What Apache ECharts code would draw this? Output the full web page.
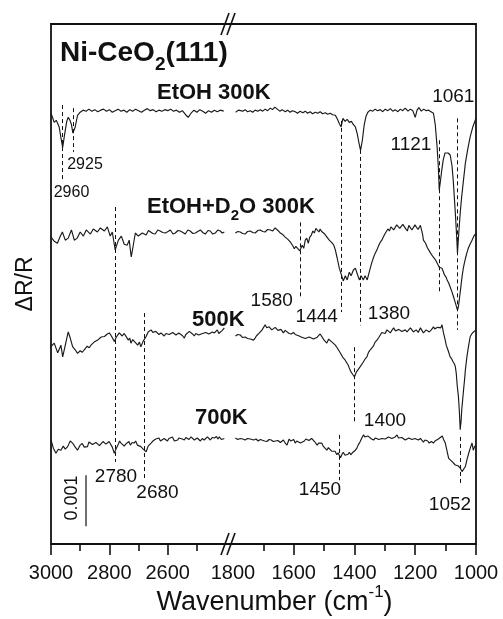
<!DOCTYPE html>
<html>
<head>
<meta charset="utf-8">
<script src="https://cdn.jsdelivr.net/npm/echarts@6/dist/echarts.min.js"></script>
<style>
  html, body { margin: 0; padding: 0; background: #fff; }
  #chart { width: 503px; height: 619px; }
</style>
</head>
<body>
<div id="chart"></div>
<script>
// Broken wavenumber axis (cm-1): high-frequency window and fingerprint window
const highRange = [2390, 3000];
const lowRange = [1000, 1813];
const highTicks = [3000, 2800, 2600];
const highMinorTicks = [2900, 2700, 2500];
const lowTicks = [1800, 1600, 1400, 1200, 1000];
const lowMinorTicks = [1700, 1500, 1300, 1100];

// Stacking offsets of the four traces (units of 1e-3 dR/R)
const offsets = [8.47, 6.10, 4.10, 2.04];
// Scale bar length (1e-3 dR/R)
const scaleBar = 1.0;

// EtOH 300K : [wavenumber, dR/R x1e3]
const etohHigh = [[3000,-0.02],[2995,-0.10],[2989,-0.20],[2982,-0.16],[2977,-0.22],[2972,-0.29],[2966,-0.50],[2960,-0.69],[2955,-0.50],[2951,-0.35],[2946,-0.18],[2941,-0.10],[2935,-0.16],[2930,-0.24],[2925,-0.41],[2917,-0.29],[2909,-0.06],[2900,0.00],[2890,0.04],[2880,0.02],[2870,0.06],[2860,0.02],[2850,0.05],[2840,0.01],[2830,0.04],[2820,0.06],[2810,0.02],[2800,0.05],[2790,0.00],[2780,0.03],[2770,0.06],[2760,0.02],[2750,0.04],[2740,0.00],[2730,0.05],[2720,0.02],[2710,0.06],[2700,0.03],[2690,0.00],[2680,0.04],[2670,0.07],[2660,0.03],[2650,0.05],[2640,0.01],[2630,0.04],[2620,0.02],[2610,0.05],[2600,0.03],[2590,0.06],[2580,0.02],[2570,0.04],[2560,0.00],[2550,0.03],[2540,-0.04],[2530,-0.10],[2520,-0.02],[2510,0.04],[2500,0.00],[2490,0.05],[2480,0.02],[2470,-0.02],[2460,0.03],[2450,0.00],[2440,0.04],[2430,0.01],[2420,0.04],[2408,0.02]];
const etohLow = [[1791,0.00],[1782,0.04],[1776,0.06],[1768,0.02],[1760,0.05],[1752,0.01],[1743,0.03],[1735,0.00],[1727,0.04],[1718,0.02],[1710,0.05],[1702,0.02],[1694,0.06],[1686,0.03],[1677,0.08],[1670,0.05],[1662,0.10],[1654,0.06],[1646,0.02],[1638,0.05],[1628,0.01],[1620,0.04],[1612,0.00],[1604,0.03],[1595,0.01],[1587,-0.02],[1579,0.02],[1570,-0.01],[1562,0.02],[1554,-0.02],[1546,0.01],[1538,-0.03],[1529,0.00],[1521,-0.02],[1513,0.01],[1505,-0.03],[1496,-0.01],[1488,-0.04],[1480,-0.02],[1472,-0.05],[1463,-0.06],[1456,-0.14],[1450,-0.22],[1444,-0.29],[1438,-0.12],[1431,-0.18],[1424,-0.14],[1417,-0.20],[1410,-0.18],[1404,-0.24],[1397,-0.29],[1391,-0.42],[1386,-0.58],[1380,-0.75],[1374,-0.55],[1368,-0.25],[1362,-0.08],[1356,0.00],[1348,0.04],[1340,0.02],[1332,0.06],[1324,0.03],[1315,0.05],[1307,0.01],[1299,0.06],[1290,0.03],[1282,0.07],[1274,0.02],[1266,0.05],[1257,0.01],[1249,0.06],[1241,0.03],[1233,0.08],[1224,0.02],[1216,0.06],[1208,0.03],[1200,-0.10],[1194,0.04],[1188,0.09],[1180,0.02],[1172,0.06],[1164,0.03],[1156,0.04],[1148,0.01],[1140,-0.02],[1134,-0.25],[1128,-0.68],[1124,-1.07],[1121,-1.53],[1117,-1.35],[1113,-1.15],[1108,-0.94],[1102,-0.80],[1098,-0.78],[1092,-0.80],[1085,-0.84],[1079,-1.05],[1075,-1.33],[1068,-1.98],[1064,-2.40],[1061,-2.76],[1057,-2.40],[1052,-1.98],[1047,-1.65],[1043,-1.43],[1035,-1.00],[1027,-0.72],[1019,-0.48],[1010,-0.28],[1000,-0.12]];

// EtOH+D2O 300K
const d2oHigh = [[3000,-0.08],[2989,-0.16],[2978,-0.20],[2968,-0.06],[2961,0.02],[2951,-0.14],[2941,-0.10],[2930,0.06],[2920,-0.14],[2910,-0.10],[2900,0.02],[2889,-0.06],[2879,0.06],[2865,-0.02],[2855,0.08],[2841,0.02],[2831,0.10],[2817,0.04],[2807,0.12],[2797,-0.06],[2790,0.02],[2780,-0.33],[2769,-0.14],[2759,-0.06],[2749,-0.22],[2739,-0.24],[2732,-0.14],[2725,-0.47],[2718,-0.24],[2711,0.00],[2701,-0.06],[2687,0.00],[2674,-0.04],[2666,0.05],[2660,0.02],[2651,-0.01],[2643,-0.02],[2634,0.06],[2626,0.04],[2617,0.01],[2608,0.00],[2599,0.03],[2591,0.06],[2582,-0.02],[2574,0.00],[2565,0.05],[2557,0.04],[2548,0.01],[2540,-0.02],[2531,0.06],[2523,0.04],[2514,-0.01],[2505,0.00],[2497,0.03],[2488,0.06],[2480,0.01],[2471,-0.02],[2462,0.05],[2454,0.04],[2446,-0.02],[2437,0.00],[2428,0.06],[2420,0.04],[2413,0.00],[2406,0.02]];
const d2oLow = [[1792,0.00],[1784,0.03],[1776,0.02],[1768,-0.01],[1760,-0.02],[1752,0.03],[1743,0.04],[1735,0.01],[1727,0.00],[1718,0.05],[1710,0.06],[1702,0.03],[1694,0.02],[1686,0.07],[1677,0.06],[1669,0.04],[1661,0.10],[1652,0.05],[1644,0.00],[1636,-0.03],[1628,-0.08],[1620,-0.12],[1611,-0.18],[1604,-0.24],[1598,-0.31],[1593,-0.26],[1588,-0.29],[1580,-0.35],[1572,-0.24],[1567,-0.30],[1562,-0.14],[1557,-0.10],[1552,-0.20],[1547,-0.08],[1542,-0.04],[1537,0.04],[1532,0.00],[1527,0.09],[1522,0.06],[1517,0.02],[1513,0.08],[1508,0.03],[1503,0.00],[1498,-0.02],[1493,-0.06],[1488,-0.04],[1483,-0.14],[1478,-0.12],[1473,-0.20],[1468,-0.24],[1463,-0.33],[1457,-0.49],[1450,-0.69],[1444,-0.80],[1437,-0.94],[1430,-0.84],[1424,-0.92],[1417,-0.77],[1411,-0.84],[1404,-0.73],[1397,-0.69],[1391,-0.80],[1384,-0.92],[1378,-0.84],[1371,-0.92],[1365,-0.84],[1358,-0.92],[1353,-0.80],[1348,-0.69],[1343,-0.58],[1338,-0.49],[1332,-0.40],[1326,-0.33],[1320,-0.24],[1315,-0.18],[1310,-0.14],[1305,-0.08],[1300,-0.02],[1295,0.00],[1290,0.08],[1285,0.04],[1280,0.12],[1276,0.14],[1271,0.06],[1266,0.04],[1261,0.16],[1256,0.18],[1251,0.09],[1246,0.08],[1241,0.17],[1236,0.14],[1231,0.08],[1226,0.04],[1221,0.15],[1216,0.12],[1211,0.06],[1206,0.08],[1201,0.16],[1196,0.14],[1191,0.07],[1187,0.10],[1183,0.15],[1180,0.12],[1176,-0.02],[1173,-0.14],[1166,-0.20],[1160,-0.29],[1155,-0.32],[1150,-0.39],[1145,-0.42],[1141,-0.47],[1134,-0.52],[1128,-0.59],[1121,-0.67],[1117,-0.64],[1112,-0.69],[1108,-0.75],[1104,-0.82],[1099,-0.86],[1095,-0.92],[1090,-0.98],[1085,-1.06],[1080,-1.14],[1074,-1.25],[1070,-1.33],[1066,-1.41],[1061,-1.51],[1058,-1.45],[1055,-1.31],[1050,-1.06],[1046,-0.86],[1042,-0.70],[1039,-0.61],[1034,-0.48],[1030,-0.39],[1026,-0.31],[1022,-0.25],[1018,-0.20],[1013,-0.14],[1007,-0.06],[1000,0.00]];

// 500K
const k500High = [[3000,-0.23],[2989,-0.16],[2977,-0.35],[2966,-0.20],[2960,-0.43],[2951,-0.20],[2941,0.06],[2934,-0.06],[2926,-0.23],[2917,-0.29],[2909,-0.36],[2900,-0.31],[2893,-0.34],[2886,-0.29],[2880,-0.31],[2876,-0.22],[2869,-0.25],[2863,-0.20],[2857,-0.21],[2852,-0.14],[2846,-0.16],[2840,-0.10],[2834,-0.12],[2828,-0.04],[2822,-0.07],[2817,-0.03],[2812,-0.06],[2807,0.02],[2800,0.04],[2793,-0.02],[2783,-0.13],[2776,-0.04],[2771,-0.02],[2766,0.04],[2761,0.01],[2756,-0.02],[2749,0.03],[2743,0.00],[2735,-0.10],[2730,-0.06],[2726,-0.16],[2720,-0.09],[2715,-0.12],[2709,-0.16],[2703,-0.20],[2697,-0.14],[2692,-0.23],[2684,-0.12],[2674,-0.03],[2667,0.06],[2657,0.10],[2651,0.05],[2646,0.02],[2641,0.07],[2636,0.06],[2630,0.01],[2623,0.04],[2617,0.02],[2612,-0.02],[2606,0.03],[2601,0.04],[2595,0.01],[2589,0.00],[2583,0.05],[2577,0.04],[2572,0.00],[2567,-0.02],[2562,0.04],[2557,0.02],[2550,-0.01],[2543,-0.06],[2538,0.01],[2533,0.02],[2526,0.07],[2520,0.06],[2515,0.02],[2509,-0.02],[2504,0.03],[2499,0.04],[2494,0.00],[2488,-0.02],[2481,0.03],[2475,0.00],[2470,0.05],[2464,0.08],[2459,0.02],[2454,0.00],[2447,0.06],[2440,0.04],[2435,0.07],[2430,0.10],[2425,0.03],[2420,0.06],[2413,0.09],[2406,0.14]];
const k500Low = [[1792,-0.02],[1784,0.01],[1776,0.00],[1768,-0.05],[1760,-0.04],[1752,-0.07],[1743,-0.08],[1737,-0.05],[1732,-0.10],[1727,-0.06],[1723,-0.02],[1718,-0.04],[1713,0.04],[1708,0.02],[1704,0.10],[1699,0.12],[1694,0.20],[1689,0.14],[1684,0.12],[1681,0.16],[1677,0.16],[1672,0.10],[1666,0.10],[1661,0.15],[1657,0.14],[1652,0.09],[1648,0.08],[1642,0.11],[1634,0.04],[1628,0.09],[1622,0.08],[1615,0.03],[1608,0.02],[1601,0.05],[1595,0.01],[1589,0.00],[1582,-0.02],[1575,-0.04],[1569,-0.03],[1562,-0.07],[1556,-0.10],[1549,-0.04],[1542,-0.06],[1535,-0.08],[1529,-0.10],[1524,-0.05],[1519,-0.02],[1513,0.02],[1507,0.04],[1500,-0.10],[1495,-0.12],[1491,-0.16],[1485,-0.08],[1480,-0.10],[1474,-0.14],[1469,-0.16],[1463,-0.20],[1457,-0.25],[1452,-0.30],[1447,-0.35],[1442,-0.38],[1437,-0.45],[1431,-0.49],[1425,-0.55],[1420,-0.60],[1417,-0.65],[1411,-0.73],[1405,-0.78],[1400,-0.82],[1394,-0.73],[1388,-0.76],[1381,-0.62],[1376,-0.60],[1371,-0.53],[1365,-0.47],[1359,-0.43],[1354,-0.34],[1348,-0.29],[1343,-0.27],[1338,-0.22],[1332,-0.14],[1326,-0.10],[1320,-0.05],[1315,-0.02],[1310,0.05],[1305,0.06],[1299,0.03],[1293,0.10],[1288,0.08],[1282,0.04],[1277,0.09],[1271,0.14],[1265,0.08],[1259,0.06],[1254,0.11],[1249,0.12],[1244,0.07],[1239,0.04],[1233,0.10],[1227,0.06],[1222,0.09],[1216,0.14],[1211,0.11],[1206,0.06],[1201,0.08],[1197,0.10],[1190,0.05],[1183,0.14],[1178,0.09],[1173,0.04],[1168,0.07],[1164,0.10],[1159,0.12],[1154,0.06],[1147,0.10],[1140,0.16],[1136,0.12],[1131,0.10],[1126,0.15],[1121,0.16],[1116,0.14],[1112,0.20],[1107,0.04],[1102,-0.08],[1098,-0.20],[1092,-0.30],[1085,-0.43],[1080,-0.47],[1075,-0.53],[1071,-0.57],[1068,-0.62],[1065,-0.75],[1062,-0.98],[1058,-1.20],[1055,-1.47],[1052,-1.86],[1049,-1.68],[1047,-1.47],[1044,-1.28],[1041,-1.08],[1038,-0.90],[1035,-0.69],[1030,-0.43],[1024,-0.20],[1019,-0.03],[1012,0.04],[1006,0.02],[1000,0.10]];

// 700K
const k700High = [[3000,0.00],[2992,-0.16],[2983,-0.26],[2975,-0.18],[2966,-0.20],[2958,-0.12],[2951,-0.18],[2943,-0.13],[2934,-0.02],[2926,-0.06],[2917,-0.14],[2909,-0.20],[2900,-0.10],[2893,-0.07],[2886,-0.14],[2875,-0.13],[2870,-0.04],[2865,-0.06],[2858,-0.09],[2852,-0.12],[2846,-0.05],[2840,-0.06],[2834,-0.11],[2828,-0.10],[2822,-0.03],[2817,-0.04],[2812,-0.08],[2806,-0.10],[2801,-0.03],[2797,-0.06],[2790,-0.14],[2783,-0.26],[2776,-0.16],[2769,-0.08],[2765,-0.02],[2760,-0.06],[2755,-0.04],[2749,-0.12],[2744,-0.08],[2739,-0.06],[2733,-0.03],[2728,-0.10],[2722,-0.05],[2715,-0.06],[2710,-0.02],[2704,-0.10],[2698,-0.07],[2692,-0.13],[2684,-0.18],[2674,-0.23],[2667,-0.12],[2657,-0.06],[2651,-0.02],[2646,-0.04],[2641,0.02],[2636,0.00],[2630,0.04],[2625,-0.02],[2619,0.01],[2612,0.03],[2607,0.06],[2601,-0.02],[2596,0.03],[2591,0.02],[2584,0.06],[2577,-0.02],[2572,0.01],[2566,0.00],[2562,0.04],[2557,0.06],[2550,0.02],[2543,0.00],[2538,0.05],[2533,0.04],[2527,0.01],[2520,0.06],[2514,0.03],[2509,0.00],[2504,0.02],[2499,0.04],[2493,0.07],[2488,-0.02],[2482,0.03],[2475,0.00],[2470,0.02],[2464,0.06],[2459,0.03],[2454,0.00],[2447,0.05],[2440,0.04],[2433,0.07],[2428,0.02],[2423,0.06],[2416,0.01],[2406,0.03]];
const k700Low = [[1792,0.04],[1784,0.01],[1776,0.03],[1768,0.02],[1760,0.00],[1752,0.03],[1743,0.02],[1737,-0.01],[1732,0.00],[1724,0.02],[1717,-0.02],[1710,0.01],[1704,0.00],[1696,-0.02],[1688,-0.03],[1681,0.01],[1674,0.00],[1667,-0.03],[1661,-0.04],[1652,-0.01],[1644,-0.05],[1639,-0.02],[1634,0.00],[1628,-0.06],[1622,-0.10],[1618,-0.03],[1615,0.02],[1610,-0.02],[1606,-0.03],[1600,0.01],[1595,-0.06],[1590,-0.02],[1585,0.00],[1578,-0.06],[1572,-0.03],[1565,-0.02],[1560,0.02],[1555,0.04],[1550,-0.01],[1546,0.00],[1541,0.03],[1536,0.06],[1530,-0.04],[1523,-0.10],[1518,-0.06],[1513,-0.08],[1508,-0.06],[1503,-0.12],[1497,-0.14],[1491,-0.20],[1486,-0.15],[1480,-0.18],[1475,-0.22],[1470,-0.24],[1464,-0.22],[1458,-0.29],[1454,-0.25],[1450,-0.26],[1446,-0.35],[1441,-0.28],[1437,-0.24],[1431,-0.30],[1425,-0.33],[1421,-0.28],[1417,-0.24],[1412,-0.29],[1407,-0.25],[1402,-0.24],[1397,-0.20],[1392,-0.16],[1388,-0.10],[1384,-0.08],[1381,-0.03],[1376,0.04],[1370,0.10],[1366,0.06],[1361,0.04],[1356,0.08],[1351,0.06],[1344,0.02],[1337,0.00],[1331,0.04],[1325,0.04],[1320,0.01],[1315,0.00],[1310,0.03],[1305,0.06],[1299,0.02],[1293,0.03],[1288,0.06],[1282,0.08],[1277,0.03],[1272,0.00],[1266,0.06],[1260,0.10],[1255,0.04],[1249,0.02],[1244,0.05],[1239,0.06],[1233,0.00],[1227,-0.03],[1221,0.04],[1216,0.06],[1211,0.01],[1206,-0.02],[1201,0.03],[1197,0.04],[1190,0.00],[1183,0.03],[1178,0.01],[1173,-0.04],[1168,0.00],[1164,0.02],[1159,-0.02],[1154,-0.06],[1147,-0.03],[1140,-0.06],[1135,-0.02],[1131,0.00],[1124,0.02],[1118,0.03],[1111,0.08],[1106,0.00],[1101,-0.06],[1096,-0.20],[1090,-0.36],[1085,-0.38],[1081,-0.41],[1075,-0.44],[1068,-0.49],[1063,-0.47],[1058,-0.51],[1052,-0.55],[1046,-0.62],[1041,-0.59],[1035,-0.52],[1030,-0.39],[1024,-0.26],[1019,-0.16],[1013,-0.06],[1009,-0.20],[1004,-0.12],[1000,-0.13]];

// Assigned band positions (cm-1)
const highPeaks = [2960, 2925, 2780, 2680];
const lowPeaks = [1580, 1444, 1380, 1121, 1061, 1400, 1450, 1052];

// ---- layout ----
const FONT = '"Liberation Sans", Arial, Helvetica, sans-serif';
const INK = '#111';
const TRACE = '#1a1a1a';
const Y_MAX = 10.2;
const BAR_AT = 2880;           // horizontal place of the scale bar (cm-1)
const BAR_FROM = 0.35;          // lower end of the scale bar (y units)

// vertical span of each dashed guide (y units) and its label anchor (px)
const guideLayout = {
  2960: { span: [8.61, 7.14], at: [71.5, 192.5], size: 16 },
  2925: { span: [8.55, 7.69], at: [85, 165], size: 16 },
  2780: { span: [6.61, 1.61], at: [116, 476.5], size: 19 },
  2680: { span: [4.53, 1.25], at: [157.5, 492.5], size: 19 },
  1580: { span: [6.31, 4.82], at: [271.7, 300.8], size: 19 },
  1444: { span: [8.30, 4.55], at: [316.7, 316.7], size: 19 },
  1380: { span: [7.73, 4.29], at: [389, 313.3], size: 19 },
  1121: { span: [7.92, 4.94], at: [411, 145], size: 19 },
  1061: { span: [8.35, 4.20], at: [453.3, 96.7], size: 19 },
  1400: { span: [3.86, 2.37], at: [385, 421], size: 19 },
  1450: { span: [2.14, 1.25], at: [320, 490], size: 19 },
  1052: { span: [2.10, 1.16], at: [450, 505], size: 19 }
};

const shift = (arr, off) => arr.map(p => [p[0], +(p[1] + off).toFixed(3)]);

const grids = [
  { left: 51, top: 24, width: 178, height: 520, containLabel: false },
  { left: 229, top: 24, width: 247, height: 520, containLabel: false }
];

const axisLineStyle = { color: INK, width: 1.8 };

function xAxisOf(gridIndex, range, opts) {
  return Object.assign({
    type: 'value', gridIndex, min: range[0], max: range[1], inverse: true,
    position: 'bottom',
    axisLine: { show: false, onZero: false, lineStyle: axisLineStyle },
    axisTick: { show: false },
    axisLabel: { show: false },
    splitLine: { show: false }
  }, opts);
}

const tickLabel = {
  color: INK, fontSize: 20, fontFamily: FONT, margin: 19,
  formatter: v => String(v)
};

const xAxes = [
  // 0: high window, major ticks + labels
  xAxisOf(0, highRange, {
    axisLine: { show: true, onZero: false, lineStyle: axisLineStyle },
    axisTick: { show: true, customValues: highTicks, length: 11, lineStyle: { color: INK, width: 1.6 } },
    axisLabel: Object.assign({ show: true, customValues: highTicks }, tickLabel)
  }),
  // 1: high window, minor ticks
  xAxisOf(0, highRange, {
    axisTick: { show: true, customValues: highMinorTicks, length: 7, lineStyle: { color: INK, width: 1.6 } }
  }),
  // 2: high window, top frame
  xAxisOf(0, highRange, { position: 'top', axisLine: { show: true, onZero: false, lineStyle: axisLineStyle } }),
  // 3: low window, major ticks + labels
  xAxisOf(1, lowRange, {
    axisLine: { show: true, onZero: false, lineStyle: axisLineStyle },
    axisTick: { show: true, customValues: lowTicks.filter(v => v !== 1800), length: 11, lineStyle: { color: INK, width: 1.6 } },
    axisLabel: Object.assign({ show: true, customValues: lowTicks }, tickLabel)
  }),
  // 4: low window, minor ticks
  xAxisOf(1, lowRange, {
    axisTick: { show: true, customValues: lowMinorTicks, length: 7, lineStyle: { color: INK, width: 1.6 } }
  }),
  // 5: low window, top frame
  xAxisOf(1, lowRange, { position: 'top', axisLine: { show: true, onZero: false, lineStyle: axisLineStyle } })
];

const yAxes = [
  {
    type: 'value', gridIndex: 0, min: 0, max: Y_MAX, position: 'left',
    axisLine: { show: true, onZero: false, lineStyle: axisLineStyle },
    axisTick: { show: false }, axisLabel: { show: false }, splitLine: { show: false },
    name: 'ΔR/R', nameLocation: 'middle', nameRotate: 90, nameGap: 14,
    nameTextStyle: { color: INK, fontSize: 23, fontFamily: FONT }
  },
  {
    type: 'value', gridIndex: 1, min: 0, max: Y_MAX, position: 'right',
    axisLine: { show: true, onZero: false, lineStyle: axisLineStyle },
    axisTick: { show: false }, axisLabel: { show: false }, splitLine: { show: false }
  }
];

const guideLines = peaks => peaks.map(wn => [
  { coord: [wn, guideLayout[wn].span[0]] },
  { coord: [wn, guideLayout[wn].span[1]] }
]);

const guideMark = peaks => ({
  silent: true, symbol: ['none', 'none'], animation: false,
  label: { show: false },
  lineStyle: { color: INK, width: 1, type: [4, 3] },
  data: guideLines(peaks)
});

function trace(data, off, xi, yi, extra) {
  return Object.assign({
    type: 'line', xAxisIndex: xi, yAxisIndex: yi,
    data: shift(data, off), showSymbol: false, symbol: 'none',
    lineStyle: { color: TRACE, width: 1.15 }, animation: false, silent: true, z: 3
  }, extra || {});
}

const series = [
  trace(etohHigh, offsets[0], 0, 0, { markLine: guideMark(highPeaks) }),
  trace(d2oHigh, offsets[1], 0, 0),
  trace(k500High, offsets[2], 0, 0),
  trace(k700High, offsets[3], 0, 0),
  trace(etohLow, offsets[0], 3, 1, { markLine: guideMark(lowPeaks) }),
  trace(d2oLow, offsets[1], 3, 1),
  trace(k500Low, offsets[2], 3, 1),
  trace(k700Low, offsets[3], 3, 1),
  // scale bar
  {
    type: 'line', xAxisIndex: 0, yAxisIndex: 0, showSymbol: false, symbol: 'none',
    data: [[BAR_AT, BAR_FROM], [BAR_AT, BAR_FROM + scaleBar]],
    lineStyle: { color: INK, width: 1.2 }, animation: false, silent: true
  }
];

// text annotations
const boldText = (x, y, text, rich, size) => ({
  type: 'text', x, y, silent: true,
  style: {
    text, rich, fill: INK, align: 'left', verticalAlign: 'middle',
    fontFamily: FONT, fontWeight: 'bold', fontSize: size || 22
  }
});

const peakLabels = highPeaks.concat(lowPeaks).map(wn => ({
  type: 'text', x: guideLayout[wn].at[0], y: guideLayout[wn].at[1], silent: true,
  style: {
    text: String(wn), fill: INK, align: 'center', verticalAlign: 'middle',
    fontFamily: FONT, fontSize: guideLayout[wn].size
  }
}));

const breakMarks = [24, 544].flatMap(y => [0, 6].map(dx => ({
  type: 'line', silent: true,
  shape: { x1: 221 + dx, y1: y + 11, x2: 229 + dx, y2: y - 11 },
  style: { stroke: INK, lineWidth: 1.6 }
})));

const graphics = [
  boldText(60, 53, '{a|Ni-CeO}{s|2}{a|(111)}', {
    a: { fontSize: 28, fontWeight: 'bold', fontFamily: FONT, fill: INK, lineHeight: 42 },
    s: { fontSize: 19, fontWeight: 'bold', fontFamily: FONT, fill: INK, lineHeight: 18, verticalAlign: 'bottom' }
  }),
  boldText(157, 92.5, 'EtOH 300K'),
  boldText(147, 207, '{a|EtOH+D}{s|2}{a|O 300K}', {
    a: { fontSize: 22, fontWeight: 'bold', fontFamily: FONT, fill: INK, lineHeight: 33 },
    s: { fontSize: 15, fontWeight: 'bold', fontFamily: FONT, fill: INK, lineHeight: 15, verticalAlign: 'bottom' }
  }),
  boldText(192, 320, '500K'),
  boldText(195, 417.5, '700K'),
  {
    type: 'text', x: 274.5, y: 603, silent: true,
    style: {
      text: '{a|Wavenumber (cm}{p|-1}{a|)}', fill: INK, align: 'center', verticalAlign: 'middle',
      rich: {
        a: { fontSize: 27, fontFamily: FONT, fill: INK, lineHeight: 38 },
        p: { fontSize: 17, fontFamily: FONT, fill: INK, lineHeight: 17, verticalAlign: 'top' }
      }
    }
  },
  {
    type: 'text', x: 72, y: 498, rotation: Math.PI / 2, silent: true,
    style: { text: '0.001', fill: INK, align: 'center', verticalAlign: 'middle', fontFamily: FONT, fontSize: 18 }
  }
].concat(peakLabels, breakMarks);

const chart = echarts.init(document.getElementById('chart'));
chart.setOption({
  backgroundColor: '#fff',
  animation: false,
  grid: grids,
  xAxis: xAxes,
  yAxis: yAxes,
  series,
  graphic: { elements: graphics }
});
</script>
</body>
</html>
